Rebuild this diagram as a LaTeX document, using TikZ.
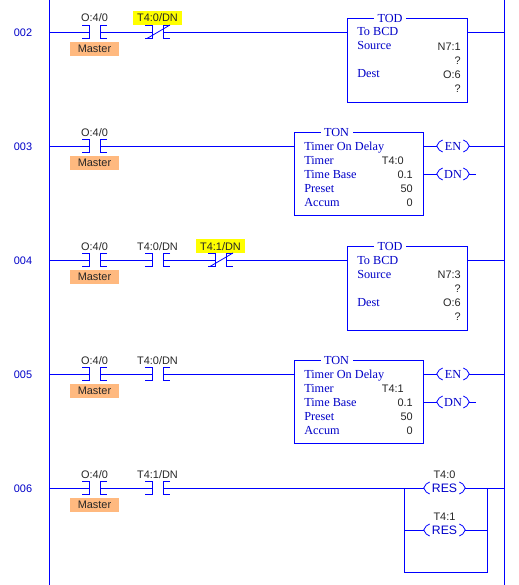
\documentclass[tikz,border=0pt]{standalone}
\usepackage{fontspec}
\setmainfont{Liberation Serif}
\setsansfont{Liberation Sans}
\usetikzlibrary{calc}
\definecolor{wireblue}{HTML}{0000FF}
\definecolor{txtblue}{HTML}{0000C8}
\definecolor{masterbg}{HTML}{FFB97F}
\definecolor{tagyellow}{HTML}{FFFF00}
\tikzset{
  wire/.style={draw=wireblue,line width=0.6pt},
  taglabel/.style={font=\sffamily\fontsize{8.2}{9}\selectfont,text=black!85,inner sep=0pt,anchor=base},
  tagfill/.style={fill=#1,minimum width=36.75pt,minimum height=10.5pt,inner sep=0pt},
  rungnum/.style={font=\sffamily\fontsize{8.2}{9}\selectfont,text=txtblue,inner sep=0pt},
  boxstyle/.style={draw=wireblue,line width=0.6pt,fill=white,inner sep=0pt},
  boxtitle/.style={fill=white,inner sep=0pt,minimum width=24pt,minimum height=8pt,text=txtblue,font=\rmfamily\fontsize{9.2}{10}\selectfont},
  rowname/.style={inner sep=0pt,anchor=base west,text=txtblue,font=\rmfamily\fontsize{9.2}{10}\selectfont},
  rowval/.style={inner sep=0pt,anchor=base east,text=black!85,font=\sffamily\fontsize{8.2}{9}\selectfont},
  coilstyle/.style={inner sep=0pt,minimum width=#1,minimum height=9pt},
  coilserif/.style={coilstyle=24pt,text=txtblue,font=\rmfamily\fontsize{9.2}{10}\selectfont},
  coilsans/.style={coilstyle=30.75pt,text=txtblue,font=\sffamily\fontsize{9.2}{10}\selectfont},
}
\newcommand{\contactNO}[4]{%
  \coordinate (#1-l) at (#2,#3);
  \coordinate (#1-r) at (#2+11,#3);
  \draw[wire] (#2-7,#3-7) -- (#2,#3-7) -- (#2,#3+6.5) -- (#2-7,#3+6.5);
  \draw[wire] (#2+18,#3-7) -- (#2+11,#3-7) -- (#2+11,#3+6.5) -- (#2+18,#3+6.5);
  \node[taglabel] (#1-t) at (#2+5.5,#3-10) {#4};
}
\newcommand{\contactNC}[4]{%
  \contactNO{#1}{#2}{#3}{#4}
  \draw[wire] (#2-5,#3+6.5) -- (#2+18,#3-7);
}
\newcommand{\yellowtag}[3]{\node[tagfill=tagyellow] (#1) at (#2+5.5,#3-14) {};}
\newcommand{\mastertag}[2]{\node[tagfill=masterbg,font=\sffamily\fontsize{8.2}{9}\selectfont,text=black!85] (#1) at (94.5,#2+17) {Master};}
\newcommand{\coilbr}[1]{%
  \draw[wire] ($(#1.west)+(6,-6)$) -- ($(#1.west)+(2.5,-4)$) -- (#1.west) -- ($(#1.west)+(2.5,4)$) -- ($(#1.west)+(6,6)$);
  \draw[wire] ($(#1.east)+(-6,-6)$) -- ($(#1.east)+(-2.5,-4)$) -- (#1.east) -- ($(#1.east)+(-2.5,4)$) -- ($(#1.east)+(-6,6)$);
}
\newcommand{\todblock}[3]{%
  \node[boxstyle,minimum width=89.6pt,minimum height=62.6pt] (#1) at (407.25,#2+28.25) {};
  \node[boxtitle] (#1-title) at (390,#2-13.5) {TOD};
  \node[rowname] (#1-a) at (357,#2+4) {To BCD};
  \node[rowname] (#1-b) at (357,#2+18) {Source};
  \node[rowname] (#1-c) at (357,#2+46) {Dest};
  \node[rowval] (#1-d) at (461,#2+18.5) {#3};
  \node[rowval] (#1-e) at (461,#2+32.5) {?};
  \node[rowval] (#1-f) at (461,#2+46.5) {O:6};
  \node[rowval] (#1-g) at (461,#2+60.5) {?};
}
\newcommand{\tonblock}[3]{%
  \node[boxstyle,minimum width=96.75pt,minimum height=62.6pt] (#1) at (359,#2+28) {};
  \node[boxtitle] (#1-title) at (336.5,#2-14) {TON};
  \node[rowname] (#1-a) at (304,#2+4) {Timer On Delay};
  \node[rowname] (#1-b) at (304,#2+18) {Timer};
  \node[rowname] (#1-c) at (304,#2+32) {Time Base};
  \node[rowname] (#1-d) at (304,#2+46) {Preset};
  \node[rowname] (#1-e) at (304,#2+60) {Accum};
  \node[rowval] (#1-f) at (404,#2+18.5) {#3};
  \node[rowval] (#1-g) at (413,#2+32.5) {0.1};
  \node[rowval] (#1-h) at (413,#2+46.5) {50};
  \node[rowval] (#1-i) at (413,#2+60.5) {0};
  \node[coilserif] (#1-en) at (453,#2) {EN};
  \node[coilserif] (#1-dn) at (453,#2+28) {DN};
  \coilbr{#1-en}\coilbr{#1-dn}
  \coordinate (#1-dnend) at (476,#2+28);
  \coordinate (#1-dnout) at (#1.east |- #1-dn);
  \coordinate (#1-enout) at (#1.east |- #1-en);
  \draw[wire] (#1-enout) -- (#1-en.west);
  \draw[wire] (#1-dnout) -- (#1-dn.west);
  \draw[wire] (#1-dn.east) -- (#1-dnend);
  \draw[wire] (#1-en.east) -- (#1-en.east -| railR);
}
\begin{document}
\begin{tikzpicture}[x=0.75pt,y=-0.75pt]
\useasboundingbox (0,0) rectangle (518,585);
\coordinate (railLt) at (49,0);
\coordinate (railLb) at (49,585);
\coordinate (railR) at (504,0);
\coordinate (railRb) at (504,585);
\draw[wire] (railLt) -- (railLb);
\draw[wire] (railR) -- (railRb);
\foreach \n/\y in {002/32,003/146,004/260,005/374,006/488}{
  \node[rungnum] (num\n) at (23,\y+0.7) {\n};
  \coordinate (start\n) at (49,\y);
  \coordinate (end\n) at (504,\y);
}
\yellowtag{yA}{152}{32}
\yellowtag{yB}{215}{260}
\mastertag{mA}{32}\mastertag{mB}{146}\mastertag{mC}{260}\mastertag{mD}{374}\mastertag{mE}{488}
\contactNO{a1}{89}{32}{O:4/0}
\contactNC{a2}{152}{32}{T4:0/DN}
\todblock{blockA}{32}{N7:1}
\draw[wire] (start002) -- (a1-l);
\draw[wire] (a1-r) -- (a2-l);
\draw[wire] (a2-r) -- (a2-r -| blockA.west);
\draw[wire] (a2-r -| blockA.east) -- (end002);
\contactNO{b1}{89}{146}{O:4/0}
\tonblock{blockB}{146}{T4:0}
\draw[wire] (start003) -- (b1-l);
\draw[wire] (b1-r) -- (b1-r -| blockB.west);
\contactNO{c1}{89}{260}{O:4/0}
\contactNO{c2}{152}{260}{T4:0/DN}
\contactNC{c3}{215}{260}{T4:1/DN}
\todblock{blockC}{260}{N7:3}
\draw[wire] (start004) -- (c1-l);
\draw[wire] (c1-r) -- (c2-l);
\draw[wire] (c2-r) -- (c3-l);
\draw[wire] (c3-r) -- (c3-r -| blockC.west);
\draw[wire] (c3-r -| blockC.east) -- (end004);
\contactNO{d1}{89}{374}{O:4/0}
\contactNO{d2}{152}{374}{T4:0/DN}
\tonblock{blockD}{374}{T4:1}
\draw[wire] (start005) -- (d1-l);
\draw[wire] (d1-r) -- (d2-l);
\draw[wire] (d2-r) -- (d2-r -| blockD.west);
\contactNO{e1}{89}{488}{O:4/0}
\contactNO{e2}{152}{488}{T4:1/DN}
\node[coilsans] (resA) at (444.5,488) {RES};
\node[coilsans] (resB) at (444.5,530) {RES};
\coilbr{resA}\coilbr{resB}
\node[taglabel] (resAt) at (444.5,478) {T4:0};
\node[taglabel] (resBt) at (444.5,520) {T4:1};
\coordinate (brTL) at (404,488);
\coordinate (brTR) at (487,488);
\coordinate (brBL) at (404,572);
\coordinate (brBR) at (487,572);
\draw[wire] (start006) -- (e1-l);
\draw[wire] (e1-r) -- (e2-l);
\draw[wire] (e2-r) -- (resA.west);
\draw[wire] (resA.east) -- (end006);
\draw[wire] (brTL) -- (brBL) -- (brBR) -- (brTR);
\draw[wire] (brTL |- resB) -- (resB.west);
\draw[wire] (resB.east) -- (brTR |- resB);
\end{tikzpicture}
\end{document}
